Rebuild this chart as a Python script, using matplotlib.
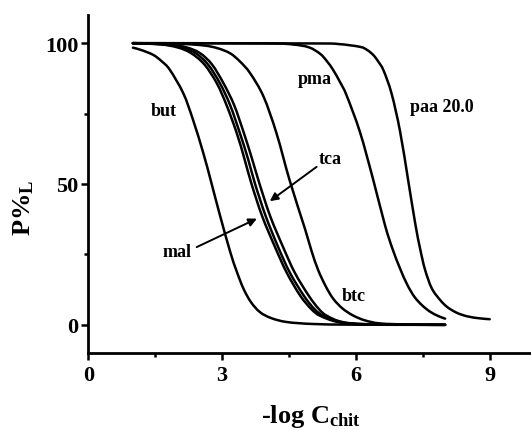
import matplotlib
matplotlib.use("Agg")
import matplotlib.pyplot as plt
from matplotlib.ticker import MultipleLocator
from matplotlib.path import Path
from matplotlib.patches import PathPatch

plt.rcParams['font.family'] = ['Liberation Serif', 'DejaVu Serif']
plt.rcParams['font.weight'] = 'bold'
plt.rcParams['mathtext.fontset'] = 'custom'
plt.rcParams['mathtext.rm'] = 'Liberation Serif:bold'
plt.rcParams['mathtext.it'] = 'Liberation Serif:bold'
plt.rcParams['mathtext.bf'] = 'Liberation Serif:bold'

# ---- data ----
but_x = [1.0, 1.2, 1.46, 1.65, 1.83, 2.13, 2.35, 2.58, 2.75, 2.95, 3.18, 3.32, 3.48, 3.65, 3.85, 4.1, 4.45, 5.04, 6.0, 8.0]
but_y = [98.4, 97.5, 95.8, 93.5, 90.5, 82.2, 72.7, 60.9, 51, 39, 26, 19.3, 12.8, 8.0, 4.5, 2.4, 1.0, 0.3, 0.05, 0]

mal_x = [1.0, 1.6, 2.0, 2.3, 2.6, 2.88, 3.1, 3.33, 3.5, 3.66, 3.9, 4.19, 4.45, 4.75, 5.0, 5.2, 5.6, 6.2, 8.0]
mal_y = [100, 99.6, 98.5, 96.5, 92.5, 85.8, 78, 68, 59, 50, 38.5, 27.5, 18.5, 10.4, 5.6, 3.2, 1.0, 0.2, 0]

mid_x = [1.0, 1.7, 2.1, 2.4, 2.68, 2.95, 3.18, 3.40, 3.58, 3.74, 3.98, 4.26, 4.52, 4.83, 5.07, 5.27, 5.65, 6.25, 8.0]
mid_y = [100, 99.6, 98.5, 96.5, 92.5, 85.8, 78, 68, 59, 50, 38.5, 27.5, 18.5, 10.4, 5.6, 3.2, 1.0, 0.2, 0]

tca_x = [1.0, 1.8, 2.2, 2.5, 2.77, 3.03, 3.27, 3.49, 3.67, 3.84, 4.08, 4.37, 4.63, 4.94, 5.17, 5.35, 5.7, 6.3, 8.0]
tca_y = [100, 99.6, 98.5, 96.5, 92.5, 85.8, 78, 68, 59, 50, 38.5, 27.5, 18.5, 10.4, 5.6, 3.2, 1.0, 0.2, 0]

btc_x = [1.0, 2.0, 2.58, 2.9, 3.18, 3.4, 3.63, 3.93, 4.22, 4.52, 4.86, 5.0, 5.15, 5.32, 5.49, 5.7, 5.94, 6.2, 6.54, 7.2, 8.0]
btc_y = [100, 99.8, 99.2, 98.2, 96.4, 93.5, 89.3, 81.0, 68, 51, 34, 26.5, 19.6, 13.8, 9.3, 5.8, 3.3, 1.6, 0.5, 0.1, 0]

pma_x = [1.0, 4.0, 4.6, 4.95, 5.2, 5.35, 5.49, 5.65, 5.79, 6.09, 6.38, 6.65, 6.82, 6.99, 7.15, 7.31, 7.48, 7.66, 7.85, 8.0]
pma_y = [100, 99.9, 99.5, 98.5, 96.2, 93.6, 90.5, 86, 81.5, 68.5, 52, 35.5, 27, 20, 14.3, 10, 7.0, 4.7, 3.1, 2.2]

paa_x = [1.0, 5.0, 5.6, 6.09, 6.25, 6.39, 6.5, 6.62, 6.80, 6.99, 7.17, 7.33, 7.44, 7.55, 7.7, 7.89, 8.05, 8.26, 8.5, 8.78, 9.0]
paa_y = [100, 99.9, 99.7, 98.7, 97.6, 95.8, 93.5, 90.3, 82.1, 68.7, 51.5, 36, 27, 19.6, 13, 8.8, 6.3, 4.3, 3.0, 2.3, 2.0]

curves = [(but_x, but_y), (mal_x, mal_y), (mid_x, mid_y), (tca_x, tca_y),
          (btc_x, btc_y), (pma_x, pma_y), (paa_x, paa_y)]

labels = ["but", "pma", "paa 20.0", "tca", "mal", "btc"]
label_pos = [(1.70, 76), (5.07, 87.5), (7.21, 77.5), (5.42, 59), (1.98, 26), (5.94, 10.4)]
label_ha = ["center", "center", "left", "center", "center", "center"]

arrow_tca = ((5.12, 56.1), (4.07, 43.9))  # tail, head
arrow_mal = ((2.43, 27.6), (3.78, 37.7))

xticks = [0, 3, 6, 9]
yticks = [0, 50, 100]

# ---- figure ----
fig = plt.figure(figsize=(5.31, 4.31), dpi=100)
ax = fig.add_axes([88.3 / 531, 77 / 431, 446 / 531, 338 / 431])
ax.set_xlim(0, 10)
ax.set_ylim(-10, 110)


def smooth_path(xs, ys):
    """Cubic Bezier path passing through the read points (Catmull-Rom style, in pixel space)."""
    pts = ax.transData.transform(list(zip(xs, ys)))
    n = len(pts)
    verts = [tuple(pts[0])]
    codes = [Path.MOVETO]
    for i in range(n - 1):
        p0 = pts[i - 1] if i > 0 else pts[i]
        p1 = pts[i]
        p2 = pts[i + 1]
        p3 = pts[i + 2] if i + 2 < n else pts[i + 1]
        c1 = p1 + (p2 - p0) / 6.0
        c2 = p2 - (p3 - p1) / 6.0
        verts += [tuple(c1), tuple(c2), tuple(p2)]
        codes += [Path.CURVE4] * 3
    return Path(verts, codes)


for cx, cy in curves:
    patch = PathPatch(smooth_path(cx, cy), facecolor='none', edgecolor='black',
                      lw=1.8, transform=None, joinstyle='round', capstyle='round')
    fig.add_artist(patch)
    ax.plot(cx, cy, alpha=0)

for t, (lx, ly), ha in zip(labels, label_pos, label_ha):
    ax.text(lx, ly, t, ha=ha, va='center', fontsize=13, fontweight='bold')

for tail, head in (arrow_tca, arrow_mal):
    ax.annotate('', xy=head, xytext=tail,
                arrowprops=dict(arrowstyle='-|>', color='black', lw=1.4,
                                mutation_scale=12, shrinkA=0, shrinkB=0))

ax.set_xticks(xticks)
ax.set_yticks(yticks)
ax.xaxis.set_minor_locator(MultipleLocator(1.5))
ax.yaxis.set_minor_locator(MultipleLocator(25))

for s in ['top', 'right']:
    ax.spines[s].set_visible(False)
for s in ['left', 'bottom']:
    ax.spines[s].set_linewidth(2.0)

ax.tick_params(which='major', direction='out', length=5, width=1.8, labelsize=16, pad=4)
ax.tick_params(axis='y', which='major', pad=2)
ax.tick_params(which='minor', direction='out', length=3, width=1.8)
for lab in ax.get_xticklabels() + ax.get_yticklabels():
    lab.set_fontweight('bold')

fig.text(311 / 531, 1 - 423 / 431, r'-log C$_{\mathrm{chit}}$', ha='center', va='baseline', fontsize=19, fontweight='bold')
fig.text(24 / 531, 1 - 208 / 431, r'P%$_{\mathrm{L}}$', ha='center', va='center', rotation=90, fontsize=19, fontweight='bold')

fig.savefig('out.png', dpi=100)
